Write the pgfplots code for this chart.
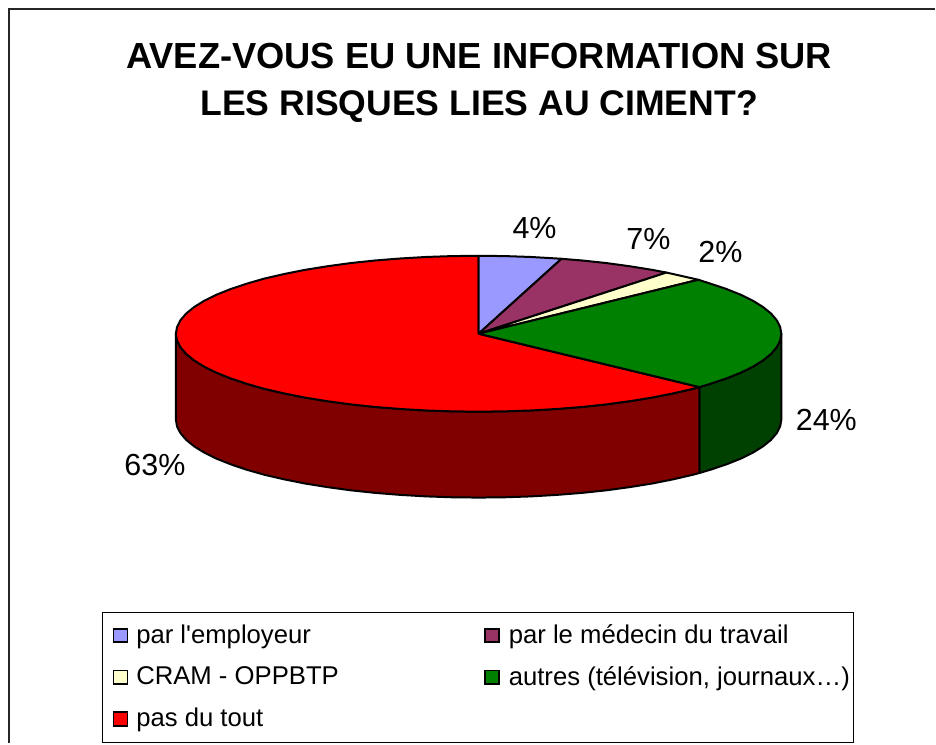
\documentclass[border=0pt]{standalone}
\usepackage{fontspec}
\setmainfont{Liberation Sans}
\usepackage{pgfplots}
\pgfplotsset{compat=1.18}
\definecolor{sEmp}{HTML}{9999FF}
\definecolor{sMed}{HTML}{993366}
\definecolor{sCra}{HTML}{FFFFCC}
\definecolor{sAut}{HTML}{008000}
\definecolor{sAutD}{HTML}{004000}
\definecolor{sPas}{HTML}{FF0000}
\definecolor{sPasD}{HTML}{800000}
\newcommand{\up}[1]{\raisebox{1.5pt}[\height][\depth]{#1}}
\pgfplotsset{
  swatch/.style={
    legend image code/.code={\path[draw=none] (0pt,0pt) -- (23pt,0pt);\draw[#1,line width=1.7pt] (9pt,-6pt) rectangle (23pt,7.5pt);}
  }
}
\begin{document}
\begin{tikzpicture}
\begin{axis}[
  scale only axis, width=936pt, height=744pt,
  xmin=0, xmax=936, ymin=0, ymax=744, y dir=reverse,
  hide axis, clip=false,
  legend columns=2,
  legend cell align=left,
  legend style={
    at={(0.109,0.1761)}, anchor=north west,
    draw=black, line width=1pt, inner xsep=2pt, inner ysep=11pt,
    font=\fontsize{25.7}{28}\selectfont,
    /tikz/every even column/.append style={column sep=0pt},
    row sep=17.5pt,
  },
  pie/.style={draw=black, line width=2pt, line join=round, forget plot},
]
% page extent
\addplot[draw=none, forget plot] coordinates {(0,0) (936,744)};
% frame (top and left edges only)
\addplot[black!85, line width=1.6pt, forget plot] coordinates {(9,744) (9,9) (936,9)};
% sides
\addplot[pie, fill=sAutD] coordinates {
(782,334) (780.8,340.8) (777.4,347.5) (771.7,354.2) (763.7,360.7) (753.6,367) (741.4,373) (727.2,378.7) (711.1,384.1) (700,387.4)
(700,473.4) (711.1,470.1) (727.2,464.7) (741.4,459) (753.6,453) (763.7,446.7) (771.7,440.2) (777.4,433.5) (780.8,426.8) (782,420) (782,334)};
\addplot[pie, fill=sPasD] coordinates {
(700,387.4) (693.3,389.2) (673.8,393.7) (652.8,397.9) (630.5,401.5) (607.1,404.7) (582.6,407.3) (557.4,409.3) (531.6,410.8) (505.4,411.7) (479,412) (452.6,411.7) (426.4,410.8) (400.6,409.3) (375.4,407.3) (350.9,404.7) (327.5,401.5) (305.2,397.9) (284.2,393.7) (264.7,389.2) (246.9,384.1) (230.8,378.7) (216.6,373) (204.4,367) (194.3,360.7) (186.3,354.2) (180.6,347.5) (177.2,340.8) (176,334)
(176,420) (177.2,426.8) (180.6,433.5) (186.3,440.2) (194.3,446.7) (204.4,453) (216.6,459) (230.8,464.7) (246.9,470.1) (264.7,475.2) (284.2,479.7) (305.2,483.9) (327.5,487.5) (350.9,490.7) (375.4,493.3) (400.6,495.3) (426.4,496.8) (452.6,497.7) (479,498) (505.4,497.7) (531.6,496.8) (557.4,495.3) (582.6,493.3) (607.1,490.7) (630.5,487.5) (652.8,483.9) (673.8,479.7) (693.3,475.2) (700,473.4) (700,387.4)};
% top faces
\addplot[pie, fill=sPas] coordinates {
(479,334) (700,387.4) (693.3,389.2) (673.8,393.7) (652.8,397.9) (630.5,401.5) (607.1,404.7) (582.6,407.3) (557.4,409.3) (531.6,410.8) (505.4,411.7) (479,412) (452.6,411.7) (426.4,410.8) (400.6,409.3) (375.4,407.3) (350.9,404.7) (327.5,401.5) (305.2,397.9) (284.2,393.7) (264.7,389.2) (246.9,384.1) (230.8,378.7) (216.6,373) (204.4,367) (194.3,360.7) (186.3,354.2) (180.6,347.5) (177.2,340.8) (176,334) (177.2,327.2) (180.6,320.5) (186.3,313.8) (194.3,307.3) (204.4,301) (216.6,295) (230.8,289.3) (246.9,283.9) (264.7,278.8) (284.2,274.3) (305.2,270.1) (327.5,266.5) (350.9,263.3) (375.4,260.7) (400.6,258.7) (426.4,257.2) (452.6,256.3) (479,256) (479,334)};
\addplot[pie, fill=sEmp] coordinates {
(479,334) (479,256) (505.4,256.3) (531.6,257.2) (557.4,258.7) (562,259) (479,334)};
\addplot[pie, fill=sMed] coordinates {
(479,334) (562,259) (582.6,260.7) (607.1,263.3) (630.5,266.5) (652.8,270.1) (667,272.8) (479,334)};
\addplot[pie, fill=sCra] coordinates {
(479,334) (667,272.8) (673.8,274.3) (699,280) (479,334)};
\addplot[pie, fill=sAut] coordinates {
(479,334) (699,280) (711.1,283.9) (727.2,289.3) (741.4,295) (753.6,301) (763.7,307.3) (771.7,313.8) (777.4,320.5) (780.8,327.2) (782,334) (780.8,340.8) (777.4,347.5) (771.7,354.2) (763.7,360.7) (753.6,367) (741.4,373) (727.2,378.7) (711.1,384.1) (700,387.4) (479,334)};
% legend
\addlegendimage{swatch={fill=sEmp}}
\addlegendentry{\up{\makebox[344pt][l]{\hspace*{6pt}par l\textquotesingle employeur}}}
\addlegendimage{swatch={fill=sMed}}
\addlegendentry{\up{\hspace*{7pt}par le médecin du travail}}
\addlegendimage{swatch={fill=sCra}}
\addlegendentry{\up{\makebox[344pt][l]{\hspace*{6pt}CRAM - OPPBTP}}}
\addlegendimage{swatch={fill=sAut}}
\addlegendentry{\up{\hspace*{7pt}autres (télévision, journaux…)}}
\addlegendimage{swatch={fill=sPas}}
\addlegendentry{\up{\makebox[344pt][l]{\hspace*{6pt}pas du tout}}}
% texts
\node[font=\bfseries\fontsize{36.3}{47}\selectfont, align=center] at (axis cs:479.5,82.5) {AVEZ-VOUS EU UNE INFORMATION SUR\\{\fontsize{35.6}{47}\selectfont LES RISQUES LIES AU CIMENT?}};
\node[font=\fontsize{30.5}{36}\selectfont] at (axis cs:535,228) {4\%};
\node[font=\fontsize{30.5}{36}\selectfont] at (axis cs:649,239) {7\%};
\node[font=\fontsize{30.5}{36}\selectfont] at (axis cs:721,252) {2\%};
\node[font=\fontsize{30.5}{36}\selectfont] at (axis cs:827,420) {24\%};
\node[font=\fontsize{30.5}{36}\selectfont] at (axis cs:155,465) {63\%};
\end{axis}
\end{tikzpicture}
\end{document}
